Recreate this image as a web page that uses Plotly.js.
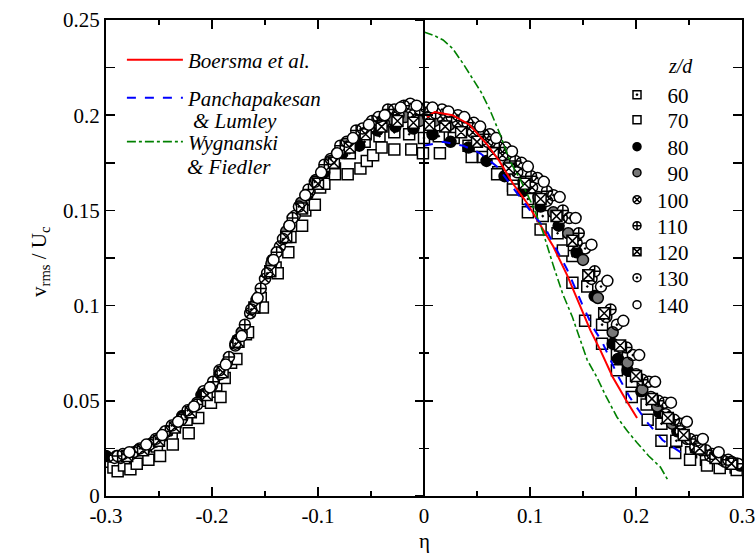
<!DOCTYPE html>
<html>
<head>
<meta charset="utf-8">
<script src="https://cdn.plot.ly/plotly-3.0.1.min.js"></script>
<style>html,body{margin:0;padding:0;background:#fff;}#chart{width:756px;height:554px;}</style>
</head>
<body>
<div id="chart"></div>
<script>
// ---- data (eta, v_rms/U_c) ----
const zdLabels = ['60','70','80','90','100','110','120','130','140'];

const eta60 = [-0.296,-0.282,-0.268,-0.252,-0.238,-0.224,-0.209,-0.196,-0.182,-0.168,-0.154,-0.140,-0.126,-0.112,-0.098,-0.084,-0.070,-0.056,-0.042,-0.028,-0.014,0.000,0.014,0.028,0.042,0.056,0.070,0.084,0.098,0.112,0.126,0.140,0.154,0.168,0.182,0.196,0.210,0.224,0.238,0.252,0.266,0.280,0.294];
const v60   = [0.018,0.019,0.022,0.026,0.032,0.040,0.050,0.058,0.070,0.085,0.104,0.120,0.136,0.150,0.162,0.172,0.180,0.186,0.189,0.191,0.190,0.188,0.189,0.188,0.184,0.178,0.170,0.163,0.156,0.147,0.138,0.126,0.110,0.090,0.074,0.060,0.048,0.038,0.029,0.023,0.019,0.017,0.015];

const eta70 = [-0.293,-0.289,-0.283,-0.277,-0.271,-0.260,-0.249,-0.237,-0.222,-0.213,-0.201,-0.192,-0.188,-0.177,-0.166,-0.152,-0.138,-0.128,-0.115,-0.103,-0.094,-0.084,-0.072,-0.060,-0.054,-0.048,-0.040,-0.028,-0.012,-0.001,0.015,0.045,0.069,0.084,0.098,0.110,0.131,0.140,0.152,0.168,0.182,0.196,0.211,0.224,0.237,0.251,0.267,0.279,0.295];
const v70   = [0.015,0.013,0.016,0.014,0.017,0.019,0.021,0.027,0.033,0.041,0.049,0.052,0.062,0.072,0.086,0.099,0.117,0.128,0.142,0.153,0.164,0.169,0.169,0.172,0.176,0.179,0.183,0.182,0.182,0.180,0.180,0.178,0.169,0.161,0.149,0.140,0.129,0.112,0.092,0.080,0.066,0.052,0.040,0.029,0.0226,0.019,0.016,0.0147,0.0137];

const eta80 = [-0.300,-0.290,-0.279,-0.263,-0.245,-0.228,-0.210,-0.193,-0.176,-0.160,-0.143,-0.127,-0.110,-0.094,-0.077,-0.061,-0.044,-0.027,-0.010,0.008,0.025,0.042,0.059,0.076,0.093,0.110,0.127,0.144,0.161,0.178,0.183,0.192,0.205,0.222,0.239,0.256,0.273,0.290,0.298];
const v80   = [0.021,0.021,0.022,0.025,0.033,0.042,0.053,0.064,0.082,0.100,0.124,0.142,0.158,0.170,0.180,0.184,0.192,0.194,0.193,0.190,0.186,0.183,0.176,0.168,0.160,0.152,0.142,0.128,0.105,0.080,0.072,0.066,0.055,0.044,0.034,0.025,0.020,0.017,0.016];

const eta90 = [-0.286,-0.270,-0.256,-0.242,-0.228,-0.214,-0.200,-0.186,-0.172,-0.158,-0.144,-0.130,-0.116,-0.102,-0.088,-0.074,-0.060,-0.046,-0.032,-0.018,-0.004,0.010,0.024,0.038,0.052,0.066,0.080,0.094,0.108,0.122,0.136,0.150,0.164,0.178,0.192,0.206,0.220,0.234,0.248,0.262,0.276,0.290];
const v90   = [0.020,0.024,0.028,0.034,0.041,0.049,0.058,0.070,0.086,0.103,0.122,0.139,0.154,0.166,0.176,0.185,0.190,0.196,0.198,0.199,0.197,0.197,0.195,0.192,0.187,0.181,0.174,0.165,0.157,0.149,0.138,0.124,0.104,0.086,0.070,0.056,0.047,0.038,0.030,0.024,0.020,0.018];

const eta100 = [-0.292,-0.276,-0.262,-0.248,-0.234,-0.220,-0.206,-0.192,-0.178,-0.164,-0.150,-0.136,-0.122,-0.108,-0.094,-0.080,-0.066,-0.052,-0.038,-0.024,-0.010,0.004,0.018,0.032,0.046,0.060,0.074,0.088,0.102,0.116,0.130,0.144,0.158,0.172,0.186,0.200,0.214,0.228,0.242,0.256,0.270,0.284];
const v100   = [0.020,0.022,0.026,0.031,0.037,0.045,0.054,0.064,0.079,0.096,0.114,0.131,0.147,0.160,0.172,0.181,0.188,0.193,0.196,0.200,0.200,0.199,0.198,0.196,0.191,0.186,0.179,0.170,0.162,0.155,0.146,0.133,0.114,0.094,0.078,0.064,0.052,0.043,0.034,0.026,0.021,0.018];

const eta110 = [-0.289,-0.274,-0.259,-0.244,-0.229,-0.214,-0.199,-0.184,-0.169,-0.154,-0.139,-0.124,-0.109,-0.094,-0.079,-0.064,-0.049,-0.034,-0.019,-0.004,0.011,0.026,0.041,0.056,0.071,0.086,0.101,0.116,0.131,0.146,0.161,0.176,0.191,0.206,0.221,0.236,0.251,0.266,0.281,0.296];
const v110   = [0.021,0.023,0.027,0.034,0.040,0.048,0.060,0.073,0.090,0.109,0.128,0.146,0.161,0.174,0.184,0.192,0.197,0.203,0.205,0.203,0.201,0.199,0.196,0.190,0.183,0.176,0.168,0.160,0.150,0.138,0.118,0.098,0.078,0.061,0.050,0.040,0.030,0.024,0.019,0.017];

const eta120 = [-0.280,-0.265,-0.250,-0.235,-0.220,-0.205,-0.190,-0.175,-0.160,-0.145,-0.130,-0.115,-0.100,-0.085,-0.070,-0.055,-0.040,-0.025,-0.010,0.005,0.020,0.035,0.050,0.065,0.080,0.095,0.110,0.125,0.140,0.155,0.170,0.185,0.200,0.215,0.230,0.245,0.260,0.275,0.290];
const v120   = [0.021,0.024,0.029,0.036,0.044,0.053,0.065,0.081,0.099,0.118,0.136,0.151,0.164,0.175,0.183,0.190,0.194,0.197,0.196,0.195,0.194,0.191,0.186,0.180,0.172,0.164,0.156,0.147,0.134,0.116,0.096,0.079,0.063,0.051,0.041,0.032,0.025,0.020,0.017];

const eta130 = [-0.284,-0.268,-0.253,-0.238,-0.223,-0.208,-0.193,-0.178,-0.163,-0.148,-0.133,-0.118,-0.103,-0.088,-0.073,-0.058,-0.043,-0.028,-0.013,0.002,0.017,0.032,0.047,0.062,0.077,0.092,0.107,0.122,0.137,0.152,0.167,0.182,0.197,0.212,0.227,0.242,0.257,0.272,0.287];
const v130   = [0.022,0.025,0.030,0.037,0.045,0.055,0.066,0.080,0.098,0.117,0.135,0.152,0.165,0.177,0.186,0.193,0.199,0.203,0.206,0.204,0.203,0.200,0.196,0.190,0.183,0.175,0.167,0.158,0.146,0.130,0.110,0.090,0.074,0.060,0.049,0.038,0.029,0.022,0.019];

const eta140 = [-0.278,-0.262,-0.247,-0.232,-0.217,-0.202,-0.187,-0.172,-0.157,-0.142,-0.127,-0.112,-0.097,-0.082,-0.067,-0.052,-0.037,-0.022,-0.007,0.008,0.023,0.038,0.053,0.068,0.083,0.098,0.113,0.128,0.143,0.158,0.173,0.188,0.203,0.218,0.233,0.248,0.263,0.278];
const v140   = [0.023,0.027,0.032,0.039,0.047,0.057,0.069,0.084,0.104,0.124,0.142,0.158,0.170,0.180,0.188,0.195,0.200,0.204,0.205,0.204,0.202,0.199,0.194,0.188,0.181,0.173,0.165,0.157,0.146,0.132,0.113,0.092,0.074,0.060,0.049,0.039,0.030,0.023];

// model curves
const etaBoersma = [0.003,0.010,0.027,0.043,0.059,0.071,0.084,0.097,0.109,0.122,0.135,0.147,0.157,0.166,0.178,0.190,0.201];
const vBoersma   = [0.199,0.2017,0.200,0.195,0.185,0.176,0.164,0.154,0.143,0.131,0.116,0.100,0.087,0.077,0.0625,0.051,0.041];

const etaPL = [0.000,0.018,0.037,0.053,0.069,0.084,0.100,0.116,0.135,0.149,0.159,0.168,0.176,0.183,0.194,0.210,0.225,0.242];
const vPL   = [0.184,0.186,0.184,0.180,0.173,0.162,0.150,0.139,0.119,0.101,0.089,0.081,0.071,0.063,0.052,0.039,0.0294,0.023];

const etaWF = [0.000,0.009,0.018,0.027,0.037,0.046,0.054,0.062,0.071,0.081,0.091,0.103,0.112,0.122,0.131,0.140,0.147,0.154,0.163,0.172,0.182,0.192,0.201,0.212,0.223,0.230];
const vWF   = [0.2437,0.242,0.2395,0.235,0.227,0.219,0.212,0.203,0.191,0.176,0.166,0.152,0.139,0.121,0.106,0.094,0.083,0.0714,0.0625,0.052,0.0415,0.034,0.028,0.021,0.0152,0.0084];

const modelNames  = ['<i>Boersma et al.</i>', '<i>Panchapakesan</i>', '<i>Wygnanski</i>'];
const modelNames2 = ['', '<i>& Lumley</i>', '<i>& Fiedler</i>'];

const xTickVals = [-0.3,-0.2,-0.1,0,0.1,0.2,0.3];
const xTickText = ['-0.3','-0.2','-0.1','0','0.1','0.2','0.3'];
const yTickVals = [0,0.05,0.1,0.15,0.2,0.25];
const yTickText = ['0','0.05','0.1','0.15','0.2','0.25'];
const xTitle = 'η';
const yTitle = 'v<sub>rms</sub> / U<sub>c</sub>';

// ---- styling ----
const FONT = "'Liberation Serif', 'Times New Roman', serif";
const etaSets = [eta60,eta70,eta80,eta90,eta100,eta110,eta120,eta130,eta140];
const vSets   = [v60,v70,v80,v90,v100,v110,v120,v130,v140];
const symbols = ['square-open-dot','square','circle','circle','circle-x','circle-cross','square-x','circle-open-dot','circle'];
const fills   = ['black','white','black','#777','white','white','white','black','white'];

const traces = [];
for (let i = 0; i < zdLabels.length; i++) {
  traces.push({
    x: etaSets[i], y: vSets[i], type: 'scatter', mode: 'markers',
    showlegend: false, hoverinfo: 'skip',
    marker: {symbol: symbols[i], size: 11, color: fills[i], line: {color: 'black', width: 1.5}}
  });
}
traces.push({x: etaBoersma, y: vBoersma, type: 'scatter', mode: 'lines', name: modelNames[0],
  legend: 'legend', line: {color: '#ff0000', width: 2}});
traces.push({x: etaPL, y: vPL, type: 'scatter', mode: 'lines', name: modelNames[1],
  legend: 'legend3', line: {color: '#0000ff', width: 2, dash: 'dash'}});
traces.push({x: etaWF, y: vWF, type: 'scatter', mode: 'lines', name: modelNames[2],
  legend: 'legend4', line: {color: '#008000', width: 1.6, dash: 'dashdot'}});

// centre-line axes
traces.push({x: [null], y: [null], yaxis: 'y2', showlegend: false, type: 'scatter', mode: 'markers', hoverinfo: 'skip'});
traces.push({x: [null], y: [null], yaxis: 'y3', showlegend: false, type: 'scatter', mode: 'markers', hoverinfo: 'skip'});

const axisCommon = {
  showgrid: false, zeroline: false, showline: true, linecolor: 'black', linewidth: 2,
  ticks: 'inside', ticklen: 9, tickwidth: 1.5, tickcolor: 'black', mirror: 'ticks',
  tickfont: {family: FONT, size: 21, color: 'black'}, automargin: false
};

const px2py = function (py) { return (496 - py) / 476; };
const px2px = function (px) { return (px - 106) / 636; };

const layout = {
  width: 756, height: 554,
  margin: {l: 106, r: 14, t: 20, b: 58},
  paper_bgcolor: 'white', plot_bgcolor: 'white',
  font: {family: FONT, color: 'black'},
  xaxis: Object.assign({}, axisCommon, {
    range: [-0.3, 0.3], tickvals: xTickVals, ticktext: xTickText,
    minor: {dtick: 0.05, tick0: 0, ticks: 'inside', ticklen: 5, tickwidth: 1.5, tickcolor: 'black'}
  }),
  yaxis: Object.assign({}, axisCommon, {
    range: [0, 0.25], tickvals: yTickVals, ticktext: yTickText,
    minor: {dtick: 0.025, tick0: 0, ticks: 'inside', ticklen: 9, tickwidth: 1.5, tickcolor: 'black'}
  }),
  yaxis2: {
    overlaying: 'y', anchor: 'free', position: 0.5, range: [0, 0.25],
    showgrid: false, zeroline: false, showline: true, linecolor: 'black', linewidth: 2,
    showticklabels: false, tickvals: yTickVals, ticks: 'outside', ticklen: 8, tickwidth: 1.5, tickcolor: 'black',
    minor: {dtick: 0.025, tick0: 0, ticks: 'outside', ticklen: 4, tickwidth: 1.5, tickcolor: 'black'}
  },
  yaxis3: {
    overlaying: 'y', anchor: 'free', position: 0.5, range: [0, 0.25],
    showgrid: false, zeroline: false, showline: false,
    showticklabels: false, tickvals: yTickVals, ticks: 'inside', ticklen: 8, tickwidth: 1.5, tickcolor: 'black',
    minor: {dtick: 0.025, tick0: 0, ticks: 'inside', ticklen: 4, tickwidth: 1.5, tickcolor: 'black'}
  },
  annotations: [
    {xref: 'paper', yref: 'paper', x: 0.5, y: px2py(541), xanchor: 'center', yanchor: 'middle',
     text: xTitle, showarrow: false, font: {family: FONT, size: 21, color: 'black'}},
    {xref: 'paper', yref: 'paper', x: px2px(40), y: px2py(262), xanchor: 'center', yanchor: 'middle',
     text: yTitle, textangle: -90, showarrow: false, font: {family: FONT, size: 21, color: 'black'}},
    {xref: 'paper', yref: 'paper', x: px2px(680), y: px2py(66), xanchor: 'center', yanchor: 'middle',
     text: '<i>z/d</i>', showarrow: false, font: {family: FONT, size: 20, color: 'black'}},
    {xref: 'paper', yref: 'paper', x: px2px(191), y: px2py(121), xanchor: 'left', yanchor: 'middle',
     text: modelNames2[1], showarrow: false, font: {family: FONT, size: 21, color: 'black'}},
    {xref: 'paper', yref: 'paper', x: px2px(185), y: px2py(167), xanchor: 'left', yanchor: 'middle',
     text: modelNames2[2], showarrow: false, font: {family: FONT, size: 21, color: 'black'}}
  ]
};

// model-curve legends (one per entry, to match the spacing of the original)
const modelLegendY = [60, 98, 142];
['legend','legend3','legend4'].forEach(function (key, i) {
  layout[key] = {
    x: 0.025, y: px2py(modelLegendY[i]), xanchor: 'left', yanchor: 'middle',
    bgcolor: 'rgba(0,0,0,0)', itemwidth: 56, borderwidth: 0,
    font: {family: FONT, size: 21, color: 'black'}
  };
});

// z/d legend entries, each in its own legend so the row spacing matches
const zdRowY = [95, 120, 147, 173, 200, 226, 252, 278, 305];
for (let i = 0; i < zdLabels.length; i++) {
  const key = 'legend' + (5 + i);
  const lab = zdLabels[i].length < 3 ? '\u2007' + zdLabels[i] : zdLabels[i];
  traces.push({
    x: [null], y: [null], type: 'scatter', mode: 'markers', name: lab,
    legend: key, hoverinfo: 'skip',
    marker: {symbol: symbols[i], size: 8, color: fills[i], line: {color: 'black', width: 1.5}}
  });
  layout[key] = {
    x: px2px(617), y: px2py(zdRowY[i]), xanchor: 'left', yanchor: 'middle',
    bgcolor: 'rgba(0,0,0,0)', itemwidth: 30, borderwidth: 0,
    font: {family: FONT, size: 21, color: 'black'}
  };
}

Plotly.newPlot('chart', traces, layout, {staticPlot: true});
</script>
</body>
</html>
